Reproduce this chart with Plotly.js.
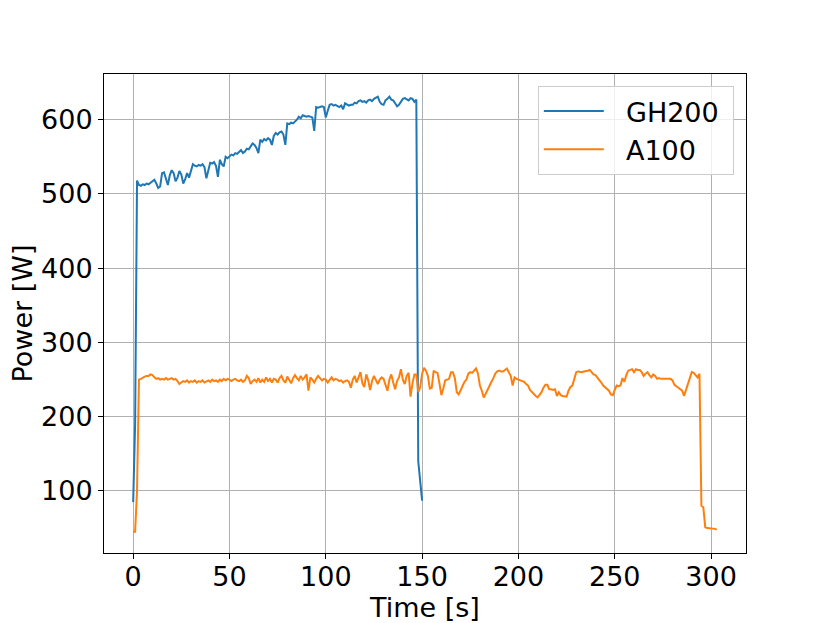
<!DOCTYPE html>
<html>
<head>
<meta charset="utf-8">
<script src="https://cdn.plot.ly/plotly-3.0.1.min.js"></script>
<style>html,body{margin:0;padding:0;background:#fff;}#chart{width:830px;height:623px;}</style>
</head>
<body>
<div id="chart"></div>
<script>
// Sampling: one reading per second, starting at t = 0 s
const sampleStart = 0;
const sampleStep = 1;

const seriesNames = ["GH200", "A100"];

// GH200 power [W], t = 0 .. 150 s
const gh200Power = [
  85,190,518,512,511,513,512,514,513,515,
  517,519,514,508,510,528,529,520,512,525,
  532,528,517,522,531,526,514,520,528,522,
  532,540,538,537,539,538,540,536,521,534,
  542,541,543,538,523,546,540,537,550,548,
  551,553,552,555,554,557,559,555,557,561,
  560,564,568,566,562,555,573,570,574,572,
  575,573,566,578,582,580,583,584,580,566,
  595,594,596,595,597,600,604,602,606,605,
  604,605,604,603,585,617,616,617,618,617,
  603,612,620,621,619,620,618,617,619,614,
  622,621,619,620,620,623,622,625,626,624,
  625,623,626,627,625,628,630,631,624,621,
  620,626,628,631,627,626,622,618,620,625,
  628,629,627,626,629,628,624,627,140,112,
  87
];

// A100 power [W], t = 0 .. 303 s
const a100Power = [
  45,45,100,250,251,253,254,255,255,257,
  256,253,251,252,250,251,250,252,250,251,
  252,250,251,248,244,246,248,247,249,246,
  248,247,249,246,248,247,249,246,248,249,
  247,250,248,249,247,250,248,251,249,251,
  250,248,250,251,249,248,250,247,249,255,
  252,244,248,250,247,252,246,250,247,253,
  248,251,246,251,250,246,252,255,249,246,
  254,250,245,252,256,252,249,255,250,253,
  257,235,253,250,246,251,255,252,249,251,
  250,246,250,253,249,251,250,248,249,246,
  248,249,247,239,250,255,246,252,260,245,
  240,257,249,236,248,255,250,244,250,253,
  251,244,235,250,257,246,237,248,253,264,
  250,244,255,259,227,245,257,257,233,240,
  258,266,262,255,238,239,262,260,259,245,
  229,238,249,250,251,260,260,252,233,230,
  236,242,247,250,258,260,259,262,265,258,
  242,235,226,231,237,242,247,252,258,261,
  262,261,261,263,265,260,255,242,253,251,
  250,249,249,247,244,242,236,233,230,228,
  226,230,233,239,243,243,237,237,236,237,
  228,233,229,228,228,227,235,240,242,252,
  260,261,260,260,261,261,262,263,260,257,
  256,253,249,246,242,240,237,235,230,229,
  236,242,241,242,252,247,256,262,263,264,
  260,264,263,263,260,255,258,260,256,253,
  257,255,251,252,251,251,252,251,252,251,
  249,243,241,239,238,235,228,236,242,252,
  260,259,256,253,258,80,78,51,50,50,
  49,49,49,48
];

const xTicks = [0, 50, 100, 150, 200, 250, 300];
const yTicks = [100, 200, 300, 400, 500, 600];

const FONT = "DejaVu Sans, Liberation Sans, sans-serif";
const FS = 27;
const LEAD = "\u00a0\u00a0";
const TRAIL = "\u00a0";

const traces = [
  {
    type: "scatter", mode: "lines", name: LEAD + seriesNames[0] + TRAIL,
    x0: sampleStart, dx: sampleStep, y: gh200Power,
    line: {color: "#1f77b4", width: 2}
  },
  {
    type: "scatter", mode: "lines", name: LEAD + seriesNames[1] + TRAIL,
    x0: sampleStart, dx: sampleStep, y: a100Power,
    line: {color: "#ff7f0e", width: 2}
  }
];

const axisCommon = {
  showline: true, linecolor: "#000", linewidth: 1, mirror: true,
  ticks: "outside", ticklen: 5, tickwidth: 1, tickcolor: "#000",
  showgrid: true, gridcolor: "#b0b0b0", gridwidth: 1,
  zeroline: false,
  tickfont: {family: FONT, size: FS, color: "#000"},
  automargin: false
};

const layout = {
  width: 830, height: 623,
  margin: {l: 104, r: 84, t: 74, b: 70, pad: 0},
  paper_bgcolor: "#fff", plot_bgcolor: "#fff",
  font: {family: FONT, size: FS, color: "#000"},
  xaxis: Object.assign({}, axisCommon, {
    range: [-15.15, 318.15], tickmode: "array", tickvals: xTicks,
    ticklabelstandoff: -5,
    title: {text: "Time [s]", font: {family: FONT, size: FS, color: "#000"}, standoff: 0}
  }),
  yaxis: Object.assign({}, axisCommon, {
    range: [16.5, 661.5], tickmode: "array", tickvals: yTicks,
    title: {text: "Power [W]", font: {family: FONT, size: FS, color: "#000"}, standoff: 0}
  }),
  showlegend: true,
  legend: {
    x: 0.981, y: 0.975, xanchor: "right", yanchor: "top",
    bgcolor: "rgba(255,255,255,0.8)", bordercolor: "#cccccc", borderwidth: 1,
    font: {family: FONT, size: FS, color: "#000"},
    itemwidth: 60
  }
};

Plotly.newPlot("chart", traces, layout, {displayModeBar: false, staticPlot: true});
</script>
</body>
</html>
